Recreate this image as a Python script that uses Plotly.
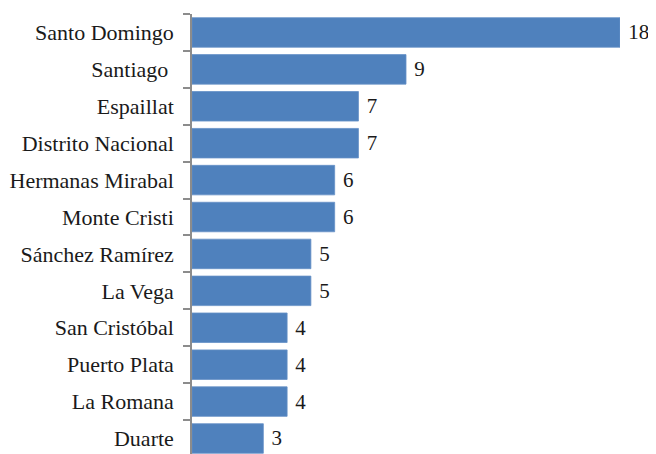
import plotly.graph_objects as go

categories = ["Santo Domingo", "Santiago\u00a0", "Espaillat", "Distrito Nacional",
              "Hermanas Mirabal", "Monte Cristi", "Sánchez Ramírez", "La Vega",
              "San Cristóbal", "Puerto Plata", "La Romana", "Duarte"]
values = [18, 9, 7, 7, 6, 6, 5, 5, 4, 4, 4, 3]

SERIF = "Liberation Serif, DejaVu Serif, serif"

fig = go.Figure(go.Bar(
    y=categories, x=values, orientation="h",
    marker=dict(color="#4F81BD", line=dict(color="#6690C6", width=0.8)),
    text=["\u00a0" + str(v) for v in values], textposition="outside",
    textfont=dict(family=SERIF, size=21, color="#1a1a1a"),
    cliponaxis=False,
))

# page body has an 8px default margin, so the figure is sized/offset for it
fig.update_layout(
    width=648, height=446,
    margin=dict(l=184, r=36, t=6, b=0, autoexpand=False),
    paper_bgcolor="white", plot_bgcolor="white",
    bargap=0.2, showlegend=False,
    font=dict(family=SERIF, size=22, color="#1a1a1a"),
)
fig.update_xaxes(range=[0, 18], visible=False, showgrid=False, zeroline=False,
                 automargin=False)
fig.update_yaxes(
    type="category", range=[11.42, -0.5], automargin=False,
    showline=True, linecolor="#8c8c8c", linewidth=1.5,
    ticks="outside", tickson="boundaries", ticklen=7, tickcolor="#8c8c8c", tickwidth=1.5,
    ticklabelstandoff=12, showgrid=False,
    tickfont=dict(family=SERIF, size=22, color="#1a1a1a"),
)

fig.write_html("out.html")
